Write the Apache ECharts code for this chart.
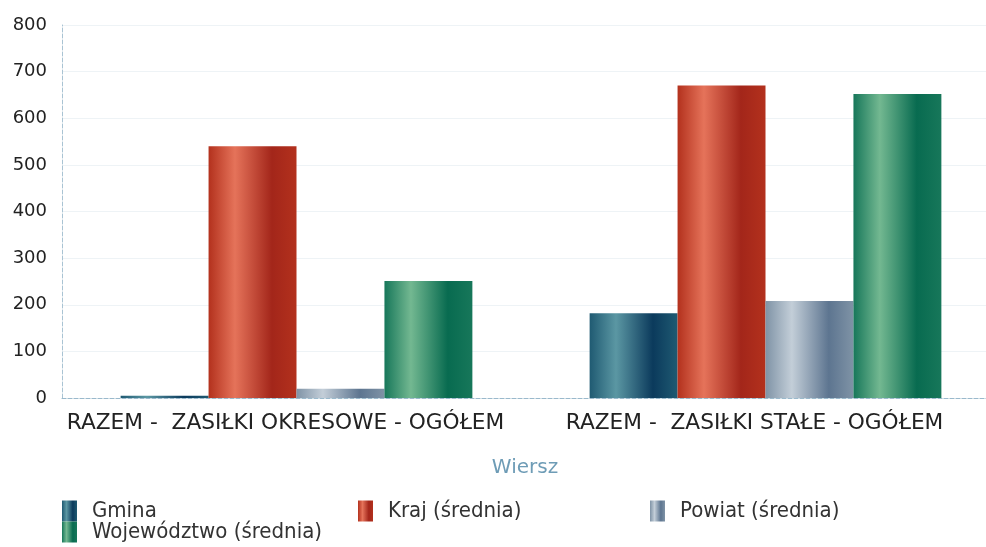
<!DOCTYPE html>
<html>
<head>
<meta charset="utf-8">
<script src="https://cdn.jsdelivr.net/npm/echarts@6/dist/echarts.min.js"></script>
<style>
  html, body { margin: 0; padding: 0; background: #fff; overflow: hidden; }
  #chart { width: 1000px; height: 547px; }
</style>
</head>
<body>
<div id="chart"></div>
<script>
  // dane
  var categories = ['RAZEM -  ZASIŁKI OKRESOWE - OGÓŁEM', 'RAZEM -  ZASIŁKI STAŁE - OGÓŁEM']
  var seriesNames = ['Gmina', 'Kraj (średnia)', 'Powiat (średnia)', 'Województwo (średnia)']
  var gmina = [5, 182]
  var kraj = [540, 670]
  var powiat = [20, 208]
  var wojewodztwo = [251, 652]
  var yTicks = [0, 100, 200, 300, 400, 500, 600, 700, 800]

  // kolory walców: krawedz, blysk, cien
  var palette = [
    ['#1f5a72', '#5b97a3', '#0b3a5c'],
    ['#b3311d', '#e5735a', '#a3261a'],
    ['#7f93a6', '#c3ced8', '#5d7590'],
    ['#17775a', '#73b891', '#086b50']
  ]

  function cylinder (c) {
    return {
      type: 'linear', x: 0, y: 0, x2: 1, y2: 0,
      colorStops: [
        { offset: 0, color: c[0] },
        { offset: 0.3, color: c[1] },
        { offset: 0.72, color: c[2] },
        { offset: 1, color: c[0] }
      ]
    }
  }

  var values = [gmina, kraj, powiat, wojewodztwo]
  var series = seriesNames.map(function (name, i) {
    return {
      name: name,
      type: 'bar',
      barGap: 0,
      barCategoryGap: '25%',
      itemStyle: { color: cylinder(palette[i]) },
      data: values[i]
    }
  })

  var legendPos = [[62, 500], [358, 500], [650, 500], [62, 521]]
  var legends = seriesNames.map(function (name, i) {
    return {
      data: [name],
      left: legendPos[i][0],
      top: legendPos[i][1],
      itemWidth: 15,
      itemHeight: 21,
      itemGap: 0,
      icon: 'rect',
      padding: 0,
      selectedMode: false,
      textStyle: {
        fontFamily: "'DejaVu Sans Condensed', 'Liberation Sans', sans-serif",
        fontSize: 22,
        color: '#333',
        padding: [0, 0, 0, 10]
      }
    }
  })

  var myChart = echarts.init(document.getElementById('chart'))
  myChart.setOption({
    animation: false,
    legend: legends,
    grid: { left: 62, right: 0, top: 25, bottom: 149 },
    xAxis: {
      type: 'category',
      data: categories,
      name: 'Wiersz',
      nameLocation: 'middle',
      nameGap: 60,
      nameTextStyle: { color: '#6e9cb6', fontSize: 20, fontFamily: 'DejaVu Sans', padding: [0, 12, 0, 0] },
      axisTick: { show: false },
      axisLine: { lineStyle: { color: '#9ab9cc', type: 'dashed' } },
      axisLabel: {
        color: '#222', fontSize: 21.7, fontFamily: 'DejaVu Sans', margin: 14, interval: 0,
        padding: [0, 22, 0, 0]
      }
    },
    yAxis: {
      type: 'value',
      min: yTicks[0],
      max: yTicks[yTicks.length - 1],
      interval: 100,
      axisLine: { show: true, lineStyle: { color: '#a9c3d3', type: 'dashed' } },
      axisTick: { show: false },
      splitLine: { lineStyle: { color: '#eef3f6' } },
      axisLabel: { color: '#222', fontSize: 18, fontFamily: 'DejaVu Sans', margin: 15 }
    },
    series: series
  })
</script>
</body>
</html>
